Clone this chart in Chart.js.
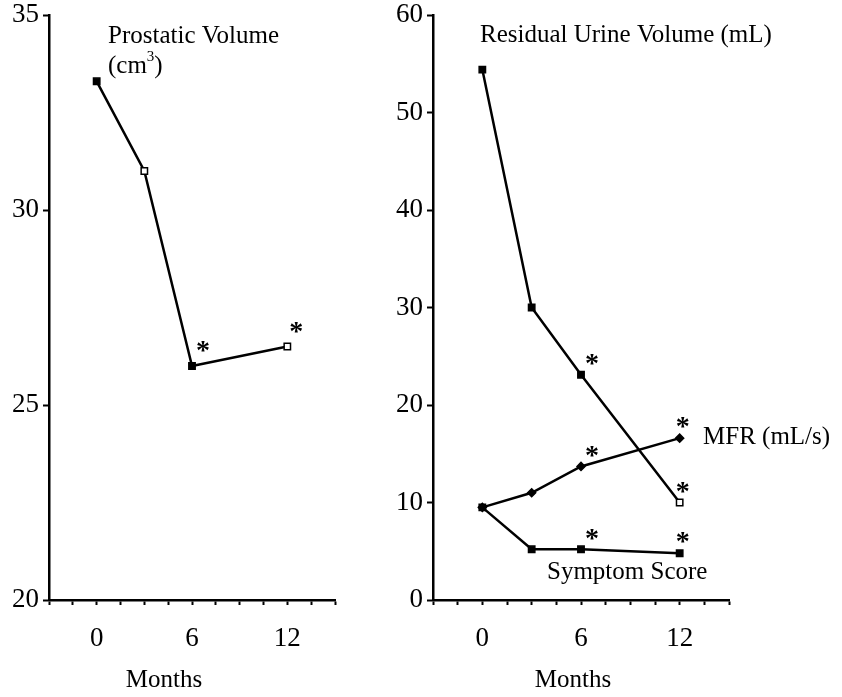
<!DOCTYPE html>
<html>
<head>
<meta charset="utf-8">
<script src="https://cdn.jsdelivr.net/npm/chart.js@4"></script>
<style>
  body { margin: 0; background: #fff; }
  #wrap { position: relative; width: 842px; height: 697px; }
  canvas { position: absolute; top: 0; }
</style>
</head>
<body>
<div id="wrap">
  <canvas id="left" width="420" height="697" style="left:0"></canvas>
  <canvas id="right" width="462" height="697" style="left:380px"></canvas>
</div>
<script>
// months after start of treatment
const months = [0, 3, 6, 12];
const xTickLabels = [0, 6, 12];

// left panel
const prostaticVolume = [33.3, 31.0, 26.0, 26.5];
const prostaticOpen = [false, true, false, true];
const prostaticStar = [false, false, true, true];
const leftYLabels = [20, 25, 30, 35];

// right panel
const residualUrine = [54.4, 30.0, 23.1, 10.0];
const residualOpen = [false, false, false, true];
const residualStar = [false, false, true, true];
const mfr = [9.5, 11.0, 13.7, 16.6];
const mfrStar = [false, false, true, true];
const symptomScore = [9.5, 5.2, 5.2, 4.8];
const symptomStar = [false, false, true, true];
const rightYLabels = [0, 10, 20, 30, 40, 50, 60];

const serif = '"Liberation Serif", "DejaVu Serif", serif';

let toPoints = function (vals) {
    return vals.map((v, i) => ({x: months[i], y: v}));
};

let lineSet = function (vals, open, stars, style, radius) {
    return {
        data: toPoints(vals),
        borderColor: '#000',
        borderWidth: 2.5,
        pointStyle: style,
        pointRadius: radius,
        pointBorderColor: '#000',
        pointBorderWidth: 1.5,
        pointBackgroundColor: vals.map((v, i) => (open && open[i]) ? '#fff' : '#000'),
        stars: stars,
        tension: 0
    };
};

// draws the free text and the significance asterisks
const notes = {
    id: 'notes',
    afterDatasetsDraw(chart, args, opts) {
        const ctx = chart.ctx;
        const xs = chart.scales.x, ys = chart.scales.y;
        ctx.save();
        ctx.fillStyle = '#000';
        ctx.textBaseline = 'middle';
        chart.data.datasets.forEach(ds => {
            if (!ds.stars) return;
            ds.data.forEach((p, i) => {
                if (!ds.stars[i]) return;
                const dx = i === ds.data.length - 1 ? opts.starDxLast : 11;
                ctx.font = 'bold 28px ' + serif;
                ctx.textAlign = 'center';
                ctx.fillText('*', xs.getPixelForValue(p.x) + dx, ys.getPixelForValue(p.y) + opts.starDy);
            });
        });
        (opts.texts || []).forEach(t => {
            const size = t.size || 25;
            ctx.font = size + 'px ' + serif;
            ctx.textAlign = t.align || 'left';
            ctx.fillText(t.text, t.x, t.y);
            if (t.sup) {
                const w = ctx.measureText(t.text).width;
                ctx.font = '15px ' + serif;
                ctx.fillText(t.sup, t.x + w, t.y - 9);
                const w2 = ctx.measureText(t.sup).width;
                ctx.font = size + 'px ' + serif;
                ctx.fillText(t.after, t.x + w + w2, t.y);
            }
        });
        ctx.restore();
    }
};

let makeOptions = function (yMin, yMax, yStep, yLabels, yWidth, padRight, starDxLast, starDy, texts) {
    return {
        responsive: false,
        animation: false,
        layout: {autoPadding: false, padding: {left: 0, right: padRight, top: 15, bottom: 0}},
        plugins: {
            legend: {display: false},
            tooltip: {enabled: false},
            notes: {texts: texts, starDxLast: starDxLast, starDy: starDy}
        },
        scales: {
            x: {
                type: 'linear',
                min: -3,
                max: 15,
                afterFit: s => { s.height = 97; },
                afterBuildTicks: s => {
                    s.ticks = [];
                    for (let v = -3; v <= 15; v += 1.5) s.ticks.push({value: v});
                },
                ticks: {
                    color: '#000',
                    padding: 18,
                    maxRotation: 0,
                    autoSkip: false,
                    font: {family: serif, size: 27},
                    callback: v => xTickLabels.includes(v) ? String(v) : ''
                },
                grid: {drawOnChartArea: false, tickLength: 5, tickWidth: 2, tickColor: '#000'},
                border: {color: '#000', width: 2.5}
            },
            y: {
                min: yMin,
                max: yMax,
                afterFit: s => {
                    s.width = yWidth;
                    s.paddingTop = 0;
                    s.paddingBottom = 0;
                },
                afterBuildTicks: s => {
                    s.ticks = [];
                    for (let v = yMin; v <= yMax + 0.001; v += yStep) s.ticks.push({value: v});
                },
                ticks: {
                    color: '#000',
                    padding: 4,
                    autoSkip: false,
                    font: {family: serif, size: 27, lineHeight: 0.9},
                    callback: v => yLabels.includes(v) ? String(v) : ''
                },
                grid: {
                    drawOnChartArea: false,
                    tickLength: 6,
                    tickWidth: 2,
                    tickColor: c => (c.tick && yLabels.includes(c.tick.value)) ? '#000' : 'rgba(0,0,0,0)'
                },
                border: {color: '#000', width: 2.5}
            }
        }
    };
};

new Chart(document.getElementById('left').getContext('2d'), {
    type: 'line',
    data: {
        datasets: [lineSet(prostaticVolume, prostaticOpen, prostaticStar, 'rect', 4.5)]
    },
    options: makeOptions(20, 35, 2.5, leftYLabels, 49, 85, 9, -14, [
        {text: 'Prostatic Volume', x: 108, y: 36},
        {text: '(cm', sup: '3', after: ')', x: 108, y: 66},
        {text: 'Months', x: 164, y: 680, align: 'center'}
    ]),
    plugins: [notes]
});

new Chart(document.getElementById('right').getContext('2d'), {
    type: 'line',
    data: {
        datasets: [
            lineSet(residualUrine, residualOpen, residualStar, 'rect', 4.5),
            lineSet(mfr, null, mfrStar, 'rectRot', 4),
            lineSet(symptomScore, null, symptomStar, 'rect', 4.5)
        ]
    },
    options: makeOptions(0, 60, 5, rightYLabels, 53, 113, 3, -10, [
        {text: 'Residual Urine Volume (mL)', x: 100, y: 35},
        {text: 'MFR (mL/s)', x: 323, y: 437},
        {text: 'Symptom Score', x: 167, y: 572},
        {text: 'Months', x: 193, y: 680, align: 'center'}
    ]),
    plugins: [notes]
});
</script>
</body>
</html>
